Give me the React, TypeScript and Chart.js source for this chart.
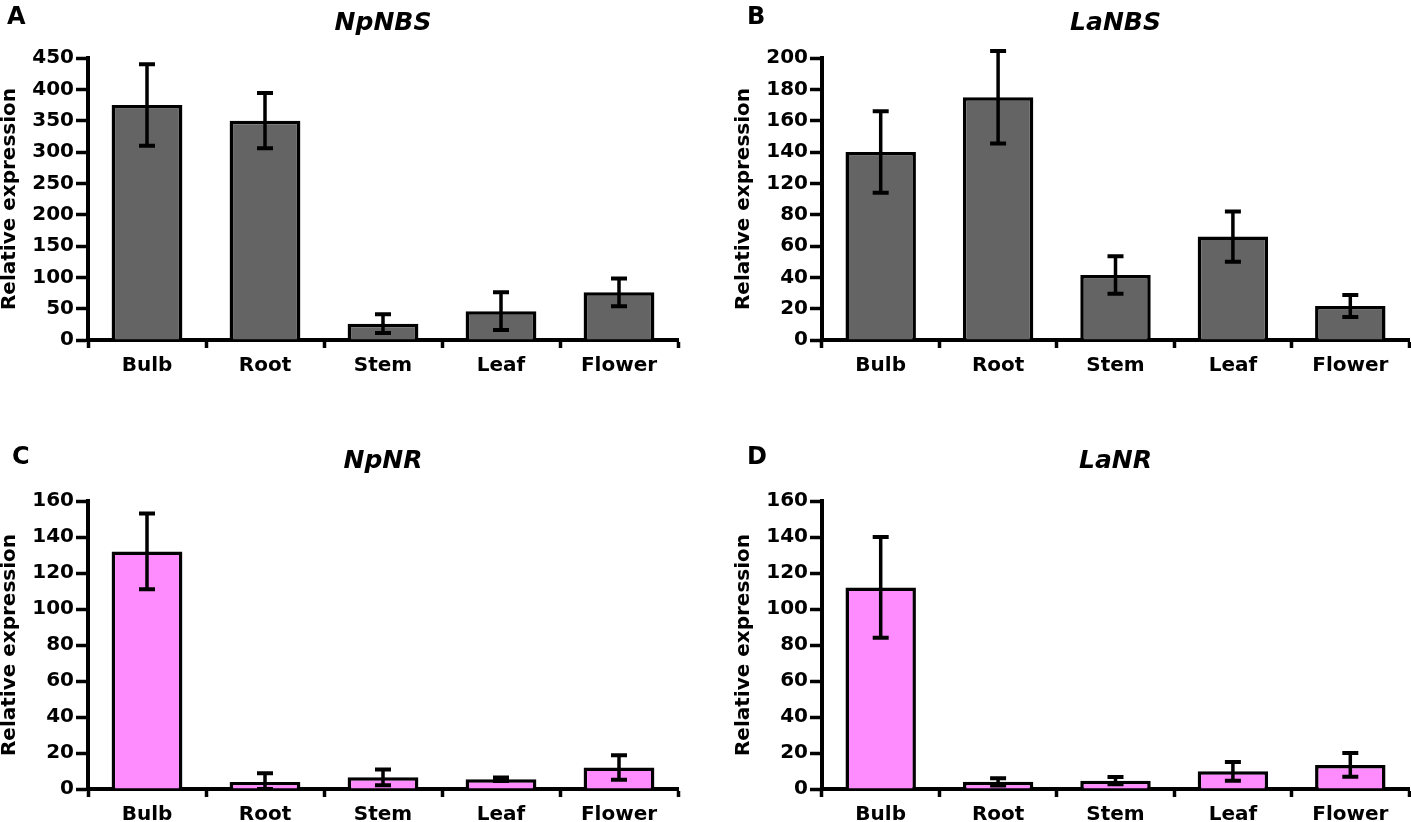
import { useEffect, useRef } from "react"
import { Chart, registerables } from "chart.js"

Chart.register(...registerables)

const FONT = "'DejaVu Sans', sans-serif"

const tissues = ["Bulb", "Root", "Stem", "Leaf", "Flower"]

// A - NpNBS
const npNbsMean = [375, 350, 26, 46, 76]
const npNbsErr = [65, 44, 15, 30, 22]
const npNbsTicks = ["0", "50", "100", "150", "200", "250", "300", "350", "400", "450"]

// B - LaNBS
// the source axis has ten evenly spaced ticks but skips the "100" label,
// so these values are in tick-position units (20 per tick)
const laNbsMean = [120, 155, 41.5, 66, 21.7]
const laNbsErr = [26, 29.5, 12, 16, 7]
const laNbsTicks = ["0", "20", "40", "60", "80", "120", "140", "160", "180", "200"]

// C - NpNR
const npNrMean = [132, 3.9, 6.5, 5.4, 11.9]
const npNrErr = [21, 4.8, 4.4, 1, 6.8]

// D - LaNR
const laNrMean = [112, 4, 4.6, 9.8, 13.4]
const laNrErr = [28, 2, 2, 5.2, 6.6]

const nrTicks = ["0", "20", "40", "60", "80", "100", "120", "140", "160"]

const GRAY = "#646464"
const PINK = "#ff8cff"

// draws mean +/- error whiskers on top of the bars
const errorBars = {
  id: "errorBars",
  afterDatasetsDraw(chart: any) {
    const ds = chart.data.datasets[0]
    const errs: number[] = ds.errors
    if (!errs) return
    const meta = chart.getDatasetMeta(0)
    const y = chart.scales.y
    const ctx = chart.ctx
    ctx.save()
    ctx.strokeStyle = "#000"
    meta.data.forEach((bar: any, i: number) => {
      const v = ds.data[i] as number
      const top = y.getPixelForValue(v + errs[i])
      const bottom = y.getPixelForValue(Math.max(0, v - errs[i]))
      const x = bar.x
      ctx.lineWidth = 3.5
      ctx.beginPath()
      ctx.moveTo(x, top)
      ctx.lineTo(x, bottom)
      ctx.stroke()
      ctx.lineWidth = 4
      ctx.beginPath()
      ctx.moveTo(x - 8, top)
      ctx.lineTo(x + 8, top)
      ctx.moveTo(x - 8, bottom)
      ctx.lineTo(x + 8, bottom)
      ctx.stroke()
    })
    ctx.restore()
  },
}

type PanelProps = {
  title: string
  mean: number[]
  err: number[]
  ticks: string[]
  max: number
  step: number
  color: string
  left: number
  top: number
  width: number
  height: number
  padRight: number
  xAxisHeight: number
  titleTop: number
  titleBottom: number
}

function Panel(p: PanelProps) {
  const chartRef = useRef<HTMLCanvasElement>(null)
  const chartInstance = useRef<Chart | null>(null)

  useEffect(() => {
    if (!chartRef.current) return
    if (chartInstance.current) chartInstance.current.destroy()
    const ctx = chartRef.current.getContext("2d")
    if (!ctx) return

    const tickFont = { family: FONT, size: 20, weight: "bold" as const }

    chartInstance.current = new Chart(ctx, {
      type: "bar",
      data: {
        labels: tissues,
        datasets: [
          {
            data: p.mean,
            errors: p.err,
            backgroundColor: p.color,
            borderColor: "#000",
            borderWidth: 3.5,
            borderSkipped: "start",
            barPercentage: 0.6,
            categoryPercentage: 1,
          } as any,
        ],
      },
      options: {
        responsive: false,
        animation: false,
        layout: { padding: { left: 0, right: p.padRight, top: 0, bottom: 0 } },
        plugins: {
          legend: { display: false },
          tooltip: { enabled: false },
          title: {
            display: true,
            text: p.title,
            fullSize: false,
            color: "#000",
            font: { family: FONT, size: 25, weight: "bold", style: "italic" },
            padding: { top: p.titleTop, bottom: p.titleBottom },
          },
        },
        scales: {
          x: {
            grid: {
              display: true,
              drawOnChartArea: false,
              drawTicks: true,
              tickLength: 8,
              tickWidth: 3.5,
              tickColor: "#000",
              offset: true,
            },
            border: { display: true, color: "#000", width: 4 },
            ticks: { color: "#000", font: tickFont, padding: 6, maxRotation: 0, autoSkip: false },
            afterFit: (s: any) => {
              s.height = p.xAxisHeight
            },
          },
          y: {
            min: 0,
            max: p.max,
            ticks: {
              stepSize: p.step,
              color: "#000",
              font: tickFont,
              padding: 2,
              callback: (_v: any, i: number) => p.ticks[i],
            },
            grid: {
              display: true,
              drawOnChartArea: false,
              drawTicks: true,
              tickLength: 12,
              tickWidth: 3.5,
              tickColor: "#000",
            },
            border: { display: true, color: "#000", width: 4 },
            title: {
              display: true,
              text: "Relative expression",
              color: "#000",
              font: { family: FONT, size: 20, weight: "bold", lineHeight: 1 },
              padding: 0,
            },
            afterFit: (s: any) => {
              s.width = 88
            },
          },
        },
      },
      plugins: [errorBars],
    })

    return () => {
      if (chartInstance.current) {
        chartInstance.current.destroy()
        chartInstance.current = null
      }
    }
  }, [])

  return (
    <canvas
      ref={chartRef}
      width={p.width}
      height={p.height}
      style={{ position: "absolute", left: p.left, top: p.top, width: p.width, height: p.height }}
    />
  )
}

const letterStyle = (left: number, top: number): React.CSSProperties => ({
  position: "absolute",
  left,
  top,
  fontFamily: FONT,
  fontWeight: "bold",
  fontSize: 24,
  lineHeight: "24px",
  color: "#000",
})

export default function App() {
  const topRow = { top: 0, height: 400, xAxisHeight: 60, titleTop: 8, titleBottom: 20 }
  const bottomRow = { top: 420, height: 402, xAxisHeight: 33, titleTop: 26, titleBottom: 25 }
  const leftCol = { left: 0, width: 700, padRight: 22 }
  const rightCol = { left: 734, width: 677, padRight: 2 }

  return (
    <div style={{ position: "absolute", left: 0, top: 0, width: 1411, height: 822, background: "#fff", overflow: "hidden" }}>
      <Panel title="NpNBS" mean={npNbsMean} err={npNbsErr} ticks={npNbsTicks} max={450} step={50} color={GRAY} {...topRow} {...leftCol} />
      <Panel title="LaNBS" mean={laNbsMean} err={laNbsErr} ticks={laNbsTicks} max={180} step={20} color={GRAY} {...topRow} {...rightCol} />
      <Panel title="NpNR" mean={npNrMean} err={npNrErr} ticks={nrTicks} max={160} step={20} color={PINK} {...bottomRow} {...leftCol} />
      <Panel title="LaNR" mean={laNrMean} err={laNrErr} ticks={nrTicks} max={160} step={20} color={PINK} {...bottomRow} {...rightCol} />
      <div style={letterStyle(7, 4)}>A</div>
      <div style={letterStyle(747, 4)}>B</div>
      <div style={letterStyle(12, 444)}>C</div>
      <div style={letterStyle(747, 444)}>D</div>
    </div>
  )
}
